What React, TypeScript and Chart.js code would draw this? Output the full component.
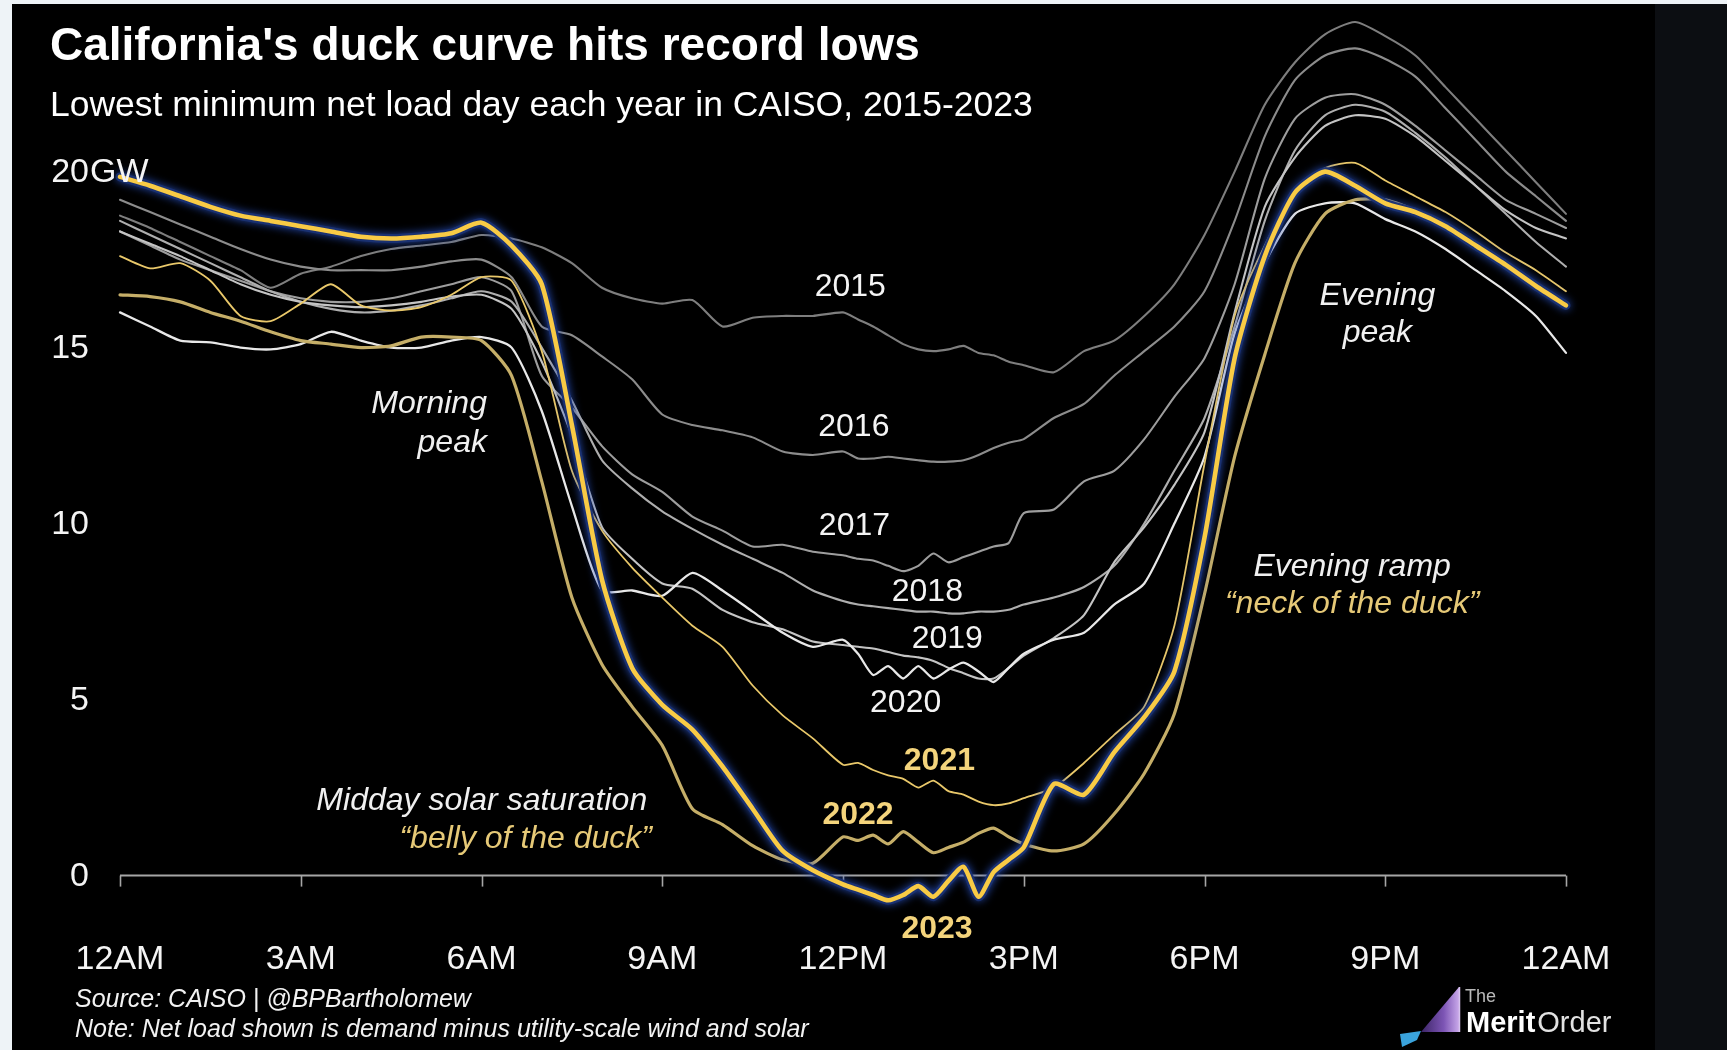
import React, { useEffect, useRef } from "react";
import { Chart, registerables } from "chart.js";

Chart.register(...registerables);

// ---------- DATA ----------
// half-hourly readings, with quarter-hour readings around the midday belly
const HOURS = [0, 0.5, 1, 1.5, 2, 2.5, 3, 3.5, 4, 4.5, 5, 5.5, 6, 6.5, 7, 7.5, 8, 8.5, 9, 9.5, 10, 10.5, 11, 11.5,
  12, 12.25, 12.5, 12.75, 13, 13.25, 13.5, 13.75, 14, 14.25, 14.5, 14.75, 15,
  15.5, 16, 16.5, 17, 17.5, 18, 18.5, 19, 19.5, 20, 20.5, 21, 21.5, 22, 22.5, 23, 23.5, 24];

const NET_LOAD_2015 = [18.75, 18.4, 18.0, 17.6, 17.2, 16.7, 17.1, 17.3, 17.6, 17.8, 17.9, 18.0, 18.2, 18.1, 17.85, 17.4, 16.7, 16.4, 16.25, 16.35, 15.6, 15.85, 15.9, 15.9,
  16.0, 15.8, 15.6, 15.35, 15.1, 14.95, 14.9, 14.95, 15.05, 14.85, 14.78, 14.6, 14.5,
  14.3, 14.9, 15.2, 15.9, 16.8, 18.2, 20.0, 21.9, 23.1, 23.9, 24.25, 23.85, 23.3, 22.4, 21.5, 20.6, 19.7, 18.8];
const NET_LOAD_2016 = [19.2, 18.85, 18.5, 18.15, 17.8, 17.5, 17.3, 17.2, 17.2, 17.2, 17.3, 17.45, 17.5, 17.0, 15.6, 15.35, 14.75, 14.1, 13.1, 12.8, 12.65, 12.45, 12.05, 11.95,
  12.05, 11.85, 11.85, 11.9, 11.85, 11.8, 11.76, 11.76, 11.8, 11.95, 12.15, 12.3, 12.4,
  13.0, 13.4, 14.2, 14.9, 15.6, 16.6, 18.6, 21.0, 22.6, 23.3, 23.5, 23.2, 22.7, 21.8, 20.9, 20.0, 19.3, 18.6];
const NET_LOAD_2017 = [18.3, 17.9, 17.5, 17.2, 16.9, 16.6, 16.4, 16.3, 16.3, 16.4, 16.6, 16.8, 17.0, 16.6, 14.2, 13.3, 12.2, 11.4, 10.9, 10.2, 9.8, 9.35, 9.4, 9.2,
  9.1, 9.0, 8.95, 8.8, 8.65, 8.8, 9.15, 8.9, 9.05, 9.2, 9.35, 9.45, 10.3,
  10.4, 11.2, 11.5, 12.4, 13.6, 14.7, 16.8, 19.8, 21.5, 22.1, 22.2, 21.9, 21.3, 20.6, 19.9, 19.2, 18.8, 18.4];
const NET_LOAD_2018 = [18.6, 18.2, 17.8, 17.4, 17.0, 16.6, 16.3, 16.1, 16.0, 16.05, 16.2, 16.4, 16.6, 16.3, 15.0, 13.5, 11.8, 11.0, 10.35, 9.85, 9.4, 9.0, 8.6, 8.1,
  7.8, 7.7, 7.65, 7.6, 7.55, 7.5, 7.5, 7.45, 7.45, 7.5, 7.5, 7.55, 7.7,
  7.9, 8.2, 8.8, 10.0, 11.5, 13.0, 15.6, 18.6, 20.6, 21.6, 21.9, 21.7, 21.1, 20.4, 19.6, 18.8, 18.0, 17.3];
const NET_LOAD_2019 = [18.3, 17.95, 17.6, 17.2, 16.8, 16.5, 16.3, 16.2, 16.15, 16.2, 16.3, 16.45, 16.5, 16.1, 14.6, 12.5, 9.9, 9.0, 8.3, 8.15, 7.55, 7.2, 7.0, 6.65,
  6.55, 6.5, 6.45, 6.35, 6.25, 6.2, 6.1, 5.9, 5.75, 5.6, 5.6, 5.9, 6.25,
  6.75, 7.4, 8.9, 9.9, 11.1, 12.6, 16.0, 19.0, 20.4, 21.3, 21.6, 21.5, 21.0, 20.3, 19.6, 18.9, 18.4, 18.1];
const NET_LOAD_2020 = [16.0, 15.6, 15.2, 15.15, 15.0, 14.95, 15.1, 15.45, 15.2, 15.0, 15.0, 15.2, 15.3, 15.0, 13.2, 10.5, 8.1, 8.1, 7.95, 8.6, 8.1, 7.5, 6.9, 6.5,
  6.7, 6.3, 5.7, 5.95, 5.6, 5.95, 5.6, 5.85, 6.05, 5.8, 5.5, 5.9, 6.3,
  6.7, 6.9, 7.7, 8.3, 10.0, 11.9, 15.4, 17.4, 18.8, 19.1, 19.1, 18.65, 18.3, 17.8, 17.2, 16.6, 15.9, 14.85];
const NET_LOAD_2021 = [17.6, 17.25, 17.4, 16.9, 15.9, 15.75, 16.25, 16.8, 16.2, 16.05, 16.15, 16.5, 17.0, 16.9, 14.9, 11.5, 9.8, 8.75, 7.9, 7.1, 6.5, 5.4, 4.55, 3.9,
  3.15, 3.2, 3.0, 2.85, 2.75, 2.5, 2.7, 2.4, 2.3, 2.1, 2.0, 2.05, 2.2,
  2.5, 3.2, 4.0, 4.8, 7.1, 11.7, 15.9, 17.9, 19.4, 20.1, 20.25, 19.75, 19.3, 18.85, 18.3, 17.7, 17.2, 16.6];
const NET_LOAD_2022 = [16.5, 16.45, 16.3, 16.0, 15.75, 15.45, 15.2, 15.1, 15.0, 15.05, 15.3, 15.3, 15.2, 14.2, 11.2, 7.9, 6.0, 4.8, 3.7, 1.9, 1.45, 0.85, 0.45, 0.35,
  1.1, 1.0, 1.15, 0.9, 1.25, 0.95, 0.65, 0.8, 0.95, 1.2, 1.35, 1.1, 0.9,
  0.7, 0.9, 1.75, 2.9, 4.6, 8.0, 11.9, 14.8, 17.4, 18.8, 19.2, 19.2, 18.9, 18.5, 17.9, 17.3, 16.7, 16.15];
const NET_LOAD_2023 = [19.85, 19.6, 19.3, 19.0, 18.75, 18.6, 18.45, 18.3, 18.15, 18.1, 18.15, 18.25, 18.55, 17.9, 16.8, 12.8, 8.4, 5.9, 4.85, 4.15, 3.1, 1.9, 0.7, 0.15,
  -0.25, -0.4, -0.55, -0.7, -0.55, -0.3, -0.6, -0.15, 0.25, -0.6, 0.1, 0.45, 0.8,
  2.6, 2.3, 3.5, 4.5, 5.8, 9.6, 14.7, 17.6, 19.4, 20.0, 19.6, 19.1, 18.85, 18.45, 17.9, 17.35, 16.75, 16.2];

const YEARS = ["2015", "2016", "2017", "2018", "2019", "2020", "2021", "2022", "2023"];
const SERIES = [NET_LOAD_2015, NET_LOAD_2016, NET_LOAD_2017, NET_LOAD_2018, NET_LOAD_2019, NET_LOAD_2020, NET_LOAD_2021, NET_LOAD_2022, NET_LOAD_2023];

const X_TICK_VALUES = [0, 3, 6, 9, 12, 15, 18, 21, 24];
const X_TICK_LABELS = ["12AM", "3AM", "6AM", "9AM", "12PM", "3PM", "6PM", "9PM", "12AM"];
const Y_TICK_VALUES = [0, 5, 10, 15, 20];
const Y_TICK_LABELS = ["0", "5", "10", "15", "20"];
const Y_UNIT = "GW";

const TITLE = "California's duck curve hits record lows";
const SUBTITLE = "Lowest minimum net load day each year in CAISO, 2015-2023";
const SOURCE = "Source: CAISO | @BPBartholomew";
const NOTE = "Note: Net load shown is demand minus utility-scale wind and solar";

// ---------- STYLE / LAYOUT ----------
const FONT = '"Liberation Sans", Arial, Helvetica, sans-serif';
const GOLD_TEXT = "#e6c977";
const GOLD_BOLD = "#f4d47c";

const LINE_STYLE = [
  { color: "#7e7e7e", width: 2.1 },
  { color: "#8c8c8c", width: 2.1 },
  { color: "#9d9d9d", width: 2.1 },
  { color: "#aeaeae", width: 2.1 },
  { color: "#c4c4c4", width: 2.1 },
  { color: "#e8e8e8", width: 2.3 },
  { color: "#e9c86a", width: 1.8 },
  { color: "#c5ae68", width: 3.2 },
  { color: "#f9cb45", width: 4.6 },
];
// draw order: lower = on top
const LINE_ORDER = [20, 18, 16, 14, 12, 10, 8, 6, 1];
const GLOW_ORDER = 3;

// year label anchor (hour, GW at text baseline)
const YEAR_LABEL_POS = [
  [12.12, 16.47], [12.18, 12.49], [12.19, 9.68], [13.4, 7.8], [13.73, 6.48],
  [13.04, 4.66], [13.6, 3.0], [12.25, 1.47], [13.56, -1.78],
];

const NOTES = [
  { text: "Morning", h: 6.09, v: 13.13, align: "right", color: "#f0f0f0" },
  { text: "peak", h: 6.09, v: 12.04, align: "right", color: "#f0f0f0" },
  { text: "Evening", h: 20.87, v: 16.21, align: "center", color: "#f0f0f0" },
  { text: "peak", h: 20.87, v: 15.17, align: "center", color: "#f0f0f0" },
  { text: "Evening ramp", h: 20.45, v: 8.52, align: "center", color: "#f0f0f0" },
  { text: "\u201cneck of the duck\u201d", h: 20.45, v: 7.45, align: "center", color: GOLD_TEXT },
  { text: "Midday solar saturation", h: 8.75, v: 1.86, align: "right", color: "#f0f0f0" },
  { text: "\u201cbelly of the duck\u201d", h: 8.83, v: 0.78, align: "right", color: GOLD_TEXT },
];

const decorPlugin = {
  id: "duckDecor",
  beforeDatasetsDraw(chart: any) {
    const { ctx } = chart;
    const x = chart.scales.x;
    const y = chart.scales.y;
    const y0 = y.getPixelForValue(0);
    ctx.save();
    ctx.strokeStyle = "#a6a6a6";
    ctx.lineWidth = 2;
    ctx.beginPath();
    ctx.moveTo(x.getPixelForValue(X_TICK_VALUES[0]), y0);
    ctx.lineTo(x.getPixelForValue(X_TICK_VALUES[X_TICK_VALUES.length - 1]), y0);
    ctx.stroke();
    ctx.lineWidth = 1.6;
    X_TICK_VALUES.forEach((v) => {
      const px = Math.round(x.getPixelForValue(v)) + 0.5;
      ctx.beginPath();
      ctx.moveTo(px, y0);
      ctx.lineTo(px, y0 + 11);
      ctx.stroke();
    });
    ctx.fillStyle = "#f4f4f4";
    ctx.font = `34px ${FONT}`;
    ctx.textAlign = "center";
    ctx.textBaseline = "alphabetic";
    X_TICK_VALUES.forEach((v, i) => {
      ctx.fillText(X_TICK_LABELS[i], x.getPixelForValue(v), y0 + 93);
    });
    ctx.restore();
  },
  beforeDatasetDraw(chart: any, args: any) {
    const ds = chart.data.datasets[args.index];
    if (ds && ds.glow) {
      chart.ctx.save();
      chart.ctx.shadowColor = "rgba(40, 80, 190, 0.9)";
      chart.ctx.shadowBlur = 8;
    }
  },
  afterDatasetDraw(chart: any, args: any) {
    const ds = chart.data.datasets[args.index];
    if (ds && ds.glow) chart.ctx.restore();
  },
  afterDatasetsDraw(chart: any) {
    const { ctx } = chart;
    const x = chart.scales.x;
    const y = chart.scales.y;
    ctx.save();
    ctx.textBaseline = "alphabetic";
    ctx.fillStyle = "#f4f4f4";
    ctx.font = `34px ${FONT}`;
    const rightEdge = x.getPixelForValue(0) - 31;
    Y_TICK_VALUES.forEach((v, i) => {
      const py = y.getPixelForValue(v) + 10;
      ctx.textAlign = "right";
      ctx.fillText(Y_TICK_LABELS[i], rightEdge, py);
      if (i === Y_TICK_VALUES.length - 1) {
        ctx.textAlign = "left";
        ctx.fillText(Y_UNIT, rightEdge + 1, py);
      }
    });
    YEARS.forEach((yr, i) => {
      const [h, v] = YEAR_LABEL_POS[i];
      const bold = i >= 6;
      ctx.font = `${bold ? "bold " : ""}32px ${FONT}`;
      ctx.fillStyle = bold ? GOLD_BOLD : "#f4f4f4";
      ctx.textAlign = "center";
      ctx.fillText(yr, x.getPixelForValue(h), y.getPixelForValue(v));
    });
    ctx.font = `italic 32px ${FONT}`;
    NOTES.forEach((n) => {
      ctx.fillStyle = n.color;
      ctx.textAlign = n.align as CanvasTextAlign;
      ctx.fillText(n.text, x.getPixelForValue(n.h), y.getPixelForValue(n.v));
    });
    ctx.restore();
  },
  afterDraw(chart: any) {
    const { ctx } = chart;
    ctx.save();
    ctx.textAlign = "left";
    ctx.textBaseline = "alphabetic";
    ctx.fillStyle = "#ffffff";
    ctx.font = `bold 46px ${FONT}`;
    ctx.fillText(TITLE, 38, 56);
    ctx.font = `35.5px ${FONT}`;
    ctx.fillText(SUBTITLE, 38, 112);
    ctx.font = `italic 25px ${FONT}`;
    ctx.fillStyle = "#f2f2f2";
    ctx.fillText(SOURCE, 63, 1003);
    ctx.fillText(NOTE, 63, 1033);

    // logo
    const grad = ctx.createLinearGradient(1409, 0, 1447, 0);
    grad.addColorStop(0, "#3b2466");
    grad.addColorStop(0.6, "#7d55b5");
    grad.addColorStop(1, "#c9a9ea");
    ctx.fillStyle = grad;
    ctx.beginPath();
    ctx.moveTo(1409, 1028);
    ctx.lineTo(1447, 1028);
    ctx.lineTo(1447, 983);
    ctx.closePath();
    ctx.fill();
    ctx.strokeStyle = "#d8c3ef";
    ctx.lineWidth = 1.5;
    ctx.beginPath();
    ctx.moveTo(1447.5, 983);
    ctx.lineTo(1447.5, 1028);
    ctx.stroke();
    ctx.fillStyle = "#3aa3dc";
    ctx.beginPath();
    ctx.moveTo(1388, 1030);
    ctx.lineTo(1409, 1027);
    ctx.lineTo(1405, 1036);
    ctx.lineTo(1390, 1043);
    ctx.closePath();
    ctx.fill();
    ctx.fillStyle = "#b9b9b9";
    ctx.font = `18px ${FONT}`;
    ctx.fillText("The", 1453, 998);
    ctx.fillStyle = "#ffffff";
    ctx.font = `bold 29px ${FONT}`;
    ctx.fillText("Merit", 1454, 1028);
    const mw = ctx.measureText("Merit").width;
    ctx.fillStyle = "#e2e2e2";
    ctx.font = `29px ${FONT}`;
    ctx.fillText("Order", 1454 + mw + 2, 1028);
    ctx.restore();
  },
};

export default function App() {
  const canvasRef = useRef<HTMLCanvasElement | null>(null);

  useEffect(() => {
    const canvas = canvasRef.current;
    if (!canvas) return;
    const common = {
      pointRadius: 0,
      fill: false,
      clip: false,
      tension: 0.22,
      borderJoinStyle: "round",
      borderCapStyle: "round",
    };
    const lines: any[] = SERIES.map((vals, i) => ({
      ...common,
      label: YEARS[i],
      data: HOURS.map((h, k) => ({ x: h, y: vals[k] })),
      borderColor: LINE_STYLE[i].color,
      borderWidth: LINE_STYLE[i].width,
      order: LINE_ORDER[i],
    }));
    lines.push({
      ...common,
      label: "2023 glow",
      glow: true,
      data: HOURS.map((h, k) => ({ x: h, y: NET_LOAD_2023[k] })),
      borderColor: "rgba(26, 50, 115, 0.95)",
      borderWidth: 9,
      order: GLOW_ORDER,
    });

    const chart = new Chart(canvas, {
      type: "line",
      data: { datasets: lines },
      options: {
        animation: false,
        responsive: false,
        devicePixelRatio: 1,
        events: [],
        layout: { padding: { left: 108, right: 89, top: 5.7, bottom: 104 } },
        scales: {
          x: { type: "linear", min: 0, max: 24, display: false },
          y: { type: "linear", min: -2, max: 24.6, display: false },
        },
        plugins: {
          legend: { display: false },
          tooltip: { enabled: false },
          title: { display: false },
        },
      },
      plugins: [decorPlugin],
    } as any);
    return () => chart.destroy();
  }, []);

  return (
    <div style={{ position: "fixed", left: 0, top: 0, width: 1727, height: 1050, background: "#eef3f7", overflow: "hidden" }}>
      <div style={{ position: "absolute", left: 1655, top: 4, width: 72, height: 1046, background: "#0c0e12" }} />
      <div style={{ position: "absolute", left: 12, top: 4, width: 1643, height: 1046, background: "#000000" }}>
        <canvas ref={canvasRef} width={1643} height={1046} style={{ display: "block", width: 1643, height: 1046 }} />
      </div>
    </div>
  );
}
